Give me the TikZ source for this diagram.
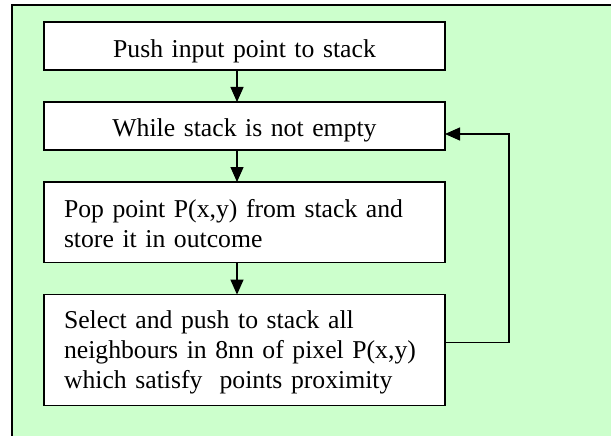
\documentclass[tikz,border=0pt]{standalone}
\usepackage{fontspec}
\setmainfont{Liberation Serif}
\usetikzlibrary{arrows.meta,positioning}
\definecolor{panelgreen}{HTML}{CCFFCC}

\begin{document}
\begin{tikzpicture}[>={Triangle[length=15pt,width=13pt]},x=1pt,y=-1pt,
                    node distance=32pt,line width=1.3pt,
                    flow box/.style={draw,fill=white,text width=361pt,inner xsep=20pt,inner ysep=0pt,outer sep=0pt,
                                     font=\fontsize{25.7pt}{30pt}\selectfont}]
  \useasboundingbox (0,0) rectangle (611,436);
  \fill[panelgreen] (11.7,5) rectangle (611,436);
  \draw[line width=2pt] (11.7,436) -- (11.7,5) -- (611,5);
  \node[flow box,align=center,text height=35.7pt,text depth=12.3pt,anchor=north west] (push) at (44,22) {Push input point to stack};
  \node[flow box,align=center,text height=34.7pt,text depth=13.3pt] (while) [below=of push] {While stack is not empty};
  \node[flow box,align=left,text height=35pt,text depth=45.6pt] (pop) [below=of while] {Pop point P(x,y) from stack and\\ store it in outcome};
  \node[flow box,align=left,text height=34.3pt,text depth=76.7pt] (select) [below=of pop] {Select and push to stack all\\ neighbours in 8nn of pixel P(x,y)\\ which satisfy~ points proximity};
  \coordinate (spine) at (237,0);
  \path[->] (push.south -| spine) edge (while.north -| spine)
            (while.south -| spine) edge (pop.north -| spine)
            (pop.south -| spine) edge (select.north -| spine);
  \draw[->] ([yshift=7.5pt]select.east) -| ([xshift=64pt,yshift=-8pt]while.east) -- ([yshift=-8pt]while.east);
\end{tikzpicture}
\end{document}
